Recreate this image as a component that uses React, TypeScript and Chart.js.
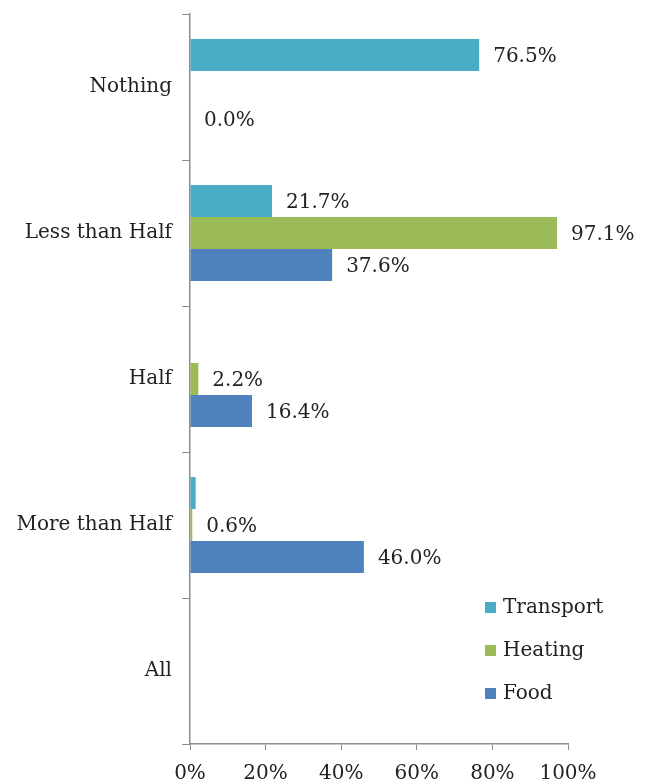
import React, { useEffect, useRef } from "react";
import { Chart, registerables } from "chart.js";

Chart.register(...registerables);

const categories = ["Nothing", "Less than Half", "Half", "More than Half", "All"];
const transport: (number | null)[] = [76.5, 21.7, null, 1.5, null];
const heating: (number | null)[] = [null, 97.1, 2.2, 0.6, null];
const food: (number | null)[] = [0.0, 37.6, 16.4, 46.0, null];
// value labels shown per series (false = bar without label)
const transportShow = [true, true, false, false, false];
const heatingShow = [false, true, true, true, false];
const foodShow = [true, true, true, true, false];
const xTicks = [0, 20, 40, 60, 80, 100];

const FONT = "'DejaVu Serif', serif";
const TEXT = "#222222";
const AXIS = "#8c8c8c";

const valueLabels = {
  id: "valueLabels",
  afterDatasetsDraw(chart: any) {
    const ctx = chart.ctx;
    ctx.save();
    ctx.font = `20px ${FONT}`;
    ctx.fillStyle = TEXT;
    ctx.textAlign = "left";
    ctx.textBaseline = "middle";
    chart.data.datasets.forEach((ds: any, di: number) => {
      const meta = chart.getDatasetMeta(di);
      meta.data.forEach((el: any, i: number) => {
        const v = ds.data[i];
        if (v === null || v === undefined || !ds.show[i]) return;
        ctx.fillText(v.toFixed(1) + "%", el.x + 14, el.y + 2);
      });
    });
    ctx.restore();
  },
};

const boxLegend = {
  id: "boxLegend",
  afterDraw(chart: any) {
    const ctx = chart.ctx;
    ctx.save();
    ctx.font = `20px ${FONT}`;
    ctx.textBaseline = "middle";
    ctx.textAlign = "left";
    const x = 485;
    const y0 = 607;
    chart.data.datasets.forEach((ds: any, i: number) => {
      const y = y0 + i * 43;
      ctx.fillStyle = ds.backgroundColor;
      ctx.fillRect(x, y - 5, 11, 11);
      ctx.fillStyle = TEXT;
      ctx.fillText(ds.label, x + 18, y + 1);
    });
    ctx.restore();
  },
};

export default function App() {
  const ref = useRef<HTMLCanvasElement>(null);
  useEffect(() => {
    if (!ref.current) return;
    const chart = new Chart(ref.current, {
      type: "bar",
      data: {
        labels: categories,
        datasets: [
          { label: "Transport", data: transport, backgroundColor: "#4BACC6", show: transportShow } as any,
          { label: "Heating", data: heating, backgroundColor: "#9BBB59", show: heatingShow } as any,
          { label: "Food", data: food, backgroundColor: "#4F81BD", show: foodShow } as any,
        ],
      },
      options: {
        indexAxis: "y",
        responsive: false,
        animation: false,
        devicePixelRatio: 1,
        layout: { padding: { top: 14, right: 86, left: 0, bottom: 0 } },
        datasets: { bar: { categoryPercentage: 0.657, barPercentage: 1, skipNull: false } } as any,
        plugins: { legend: { display: false }, tooltip: { enabled: false } },
        scales: {
          x: {
            min: 0,
            max: 100,
            afterFit: (s: any) => { s.height = 40; s.paddingLeft = 0; s.paddingRight = 0; },
            afterBuildTicks: (s: any) => { s.ticks = xTicks.map((v) => ({ value: v })); },
            ticks: {
              callback: (v: any) => v + "%",
              font: { family: FONT, size: 20 },
              color: TEXT,
              padding: 12,
              maxRotation: 0,
            },
            grid: { drawOnChartArea: false, drawTicks: true, tickLength: 6, color: AXIS },
            border: { color: AXIS, width: 1.5 },
          },
          y: {
            afterFit: (s: any) => { s.width = 190; s.paddingTop = 0; s.paddingBottom = 0; },
            ticks: {
              font: { family: FONT, size: 20 },
              color: TEXT,
              padding: 10,
            },
            grid: { drawOnChartArea: false, drawTicks: true, tickLength: 8, color: AXIS, offset: true },
            border: { color: AXIS, width: 1.5 },
          },
        },
      },
      plugins: [valueLabels, boxLegend],
    });
    return () => chart.destroy();
  }, []);
  return (
    <div style={{ position: "absolute", left: 0, top: 0, width: 654, height: 784, background: "#fff" }}>
      <canvas ref={ref} width={654} height={784} style={{ width: 654, height: 784 }} />
    </div>
  );
}
